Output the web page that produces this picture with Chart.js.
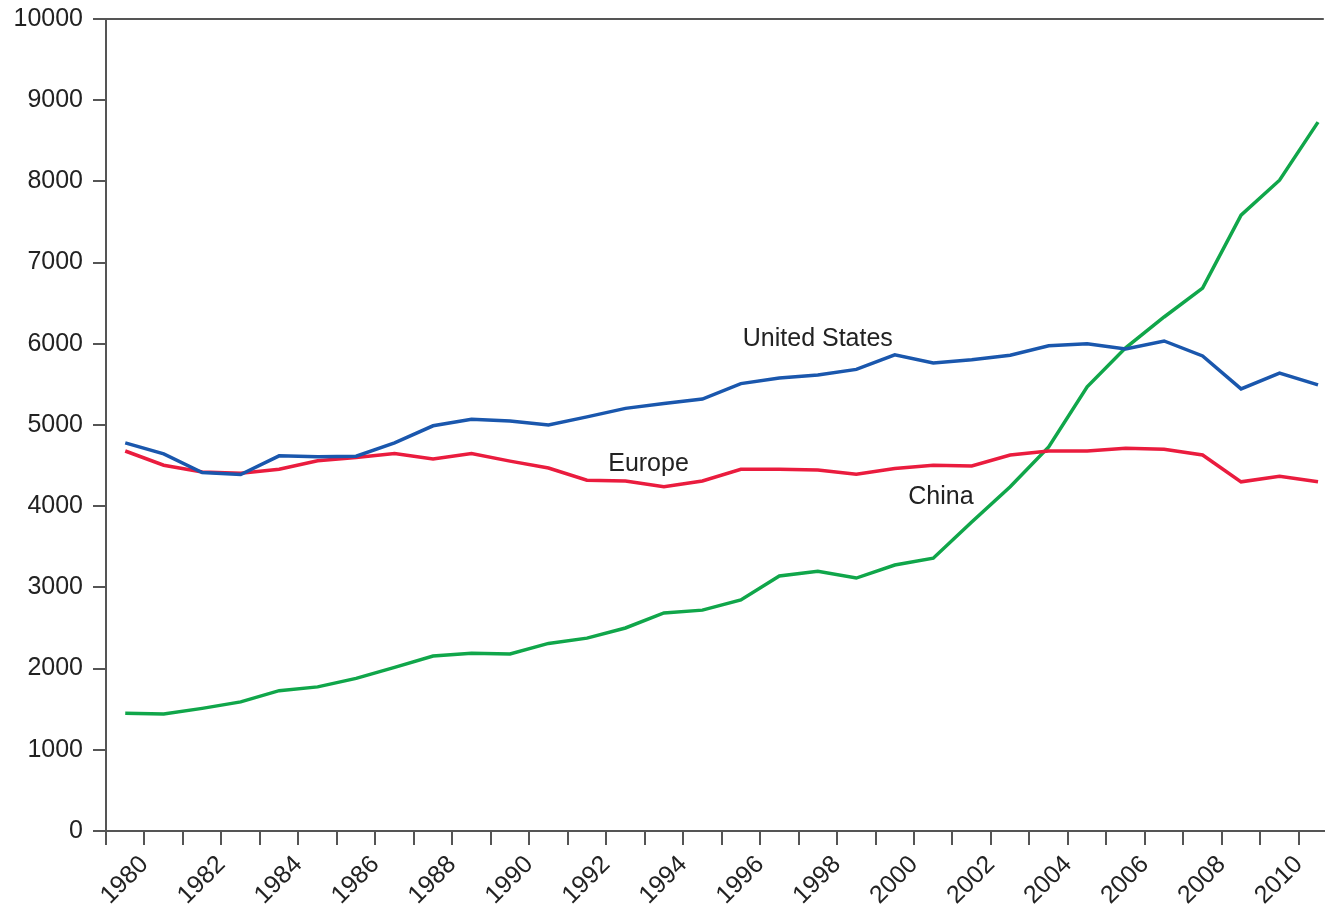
<!DOCTYPE html>
<html>
<head>
<meta charset="utf-8">
<script src="https://cdn.jsdelivr.net/npm/chart.js@4/dist/chart.umd.min.js"></script>
<style>
html, body { margin: 0; padding: 0; background: #fff; }
#wrap { width: 1325px; height: 910px; }
</style>
</head>
<body>
<div id="wrap"><canvas id="chart" width="1325" height="910"></canvas></div>
<script>
// years (each value plotted at mid-year)
const years = [1979, 1980, 1981, 1982, 1983, 1984, 1985, 1986, 1987, 1988, 1989, 1990, 1991, 1992, 1993, 1994,
               1995, 1996, 1997, 1998, 1999, 2000, 2001, 2002, 2003, 2004, 2005, 2006, 2007, 2008, 2009, 2010];

const unitedStates = [4780, 4645, 4415, 4390, 4620, 4608, 4615, 4780, 4990, 5070, 5050, 5000, 5100, 5205, 5265, 5320,
                      5510, 5580, 5615, 5685, 5865, 5765, 5805, 5860, 5975, 6000, 5935, 6035, 5850, 5445, 5640, 5495];
const europe = [4680, 4505, 4420, 4405, 4455, 4560, 4600, 4650, 4580, 4650, 4555, 4470, 4320, 4310, 4240, 4310,
                4455, 4455, 4445, 4395, 4465, 4505, 4495, 4630, 4680, 4680, 4715, 4700, 4630, 4300, 4370, 4300];
const china = [1450, 1440, 1510, 1590, 1728, 1775, 1880, 2015, 2155, 2190, 2180, 2310, 2375, 2500, 2685, 2720,
               2845, 3140, 3200, 3115, 3275, 3360, 3805, 4240, 4730, 5470, 5950, 6330, 6685, 7585, 8015, 8730];

// text labels next to the lines (in data units)
const labelNames = ['United States', 'Europe', 'China'];
const labelYears = [1997.5, 1993.1, 2000.7];
const labelValues = [6060, 4520, 4110];

const yMin = 0, yMax = 10000, yStep = 1000;

const toPoints = vals => vals.map((v, i) => ({ x: years[i] + 0.5, y: v }));

const seriesLabels = {
    id: 'seriesLabels',
    afterDatasetsDraw(chart) {
        const { ctx, scales: { x, y } } = chart;
        ctx.save();
        ctx.font = '25px "Liberation Sans", Arial, sans-serif';
        ctx.fillStyle = '#222';
        ctx.textAlign = 'center';
        ctx.textBaseline = 'middle';
        labelNames.forEach((name, i) => {
            ctx.fillText(name, x.getPixelForValue(labelYears[i]), y.getPixelForValue(labelValues[i]));
        });
        ctx.restore();
    }
};

const axisFont = { family: '"Liberation Sans", Arial, sans-serif', size: 25 };

new Chart(document.getElementById('chart'), {
    type: 'line',
    data: {
        datasets: [
            { label: 'United States', data: toPoints(unitedStates), borderColor: '#1a57ad', borderWidth: 3.5 },
            { label: 'Europe', data: toPoints(europe), borderColor: '#ea1c3e', borderWidth: 3.5 },
            { label: 'China', data: toPoints(china), borderColor: '#10a64a', borderWidth: 3.5 }
        ]
    },
    options: {
        responsive: false,
        animation: false,
        devicePixelRatio: 1,
        elements: { point: { radius: 0 }, line: { tension: 0 } },
        layout: { padding: { top: 19, right: 0, left: 0, bottom: 0 } },
        plugins: { legend: { display: false }, tooltip: { enabled: false } },
        scales: {
            x: {
                type: 'linear',
                min: years[0],
                max: 2010.65,
                afterBuildTicks: s => { s.ticks = years.map(v => ({ value: v })); },
                afterFit: s => { s.height = 79; },
                ticks: {
                    autoSkip: false,
                    minRotation: 45,
                    maxRotation: 45,
                    padding: 5,
                    color: '#222',
                    font: axisFont,
                    callback: v => (v % 2 === 0 ? String(v) : '')
                },
                grid: { drawOnChartArea: false, color: '#555', lineWidth: 2, tickLength: 14 },
                border: { color: '#555', width: 2 }
            },
            y: {
                min: yMin,
                max: yMax,
                afterFit: s => { s.width = 106; s.paddingTop = 0; s.paddingBottom = 0; },
                ticks: { stepSize: yStep, color: '#222', font: axisFont, padding: 10, callback: v => String(v) },
                grid: {
                    drawOnChartArea: true,
                    color: c => (c.tick && c.tick.value === yMax ? '#555' : 'rgba(0,0,0,0)'),
                    tickColor: '#555',
                    lineWidth: 2,
                    tickLength: 13
                },
                border: { color: '#555', width: 2 }
            }
        }
    },
    plugins: [seriesLabels]
});
</script>
</body>
</html>
